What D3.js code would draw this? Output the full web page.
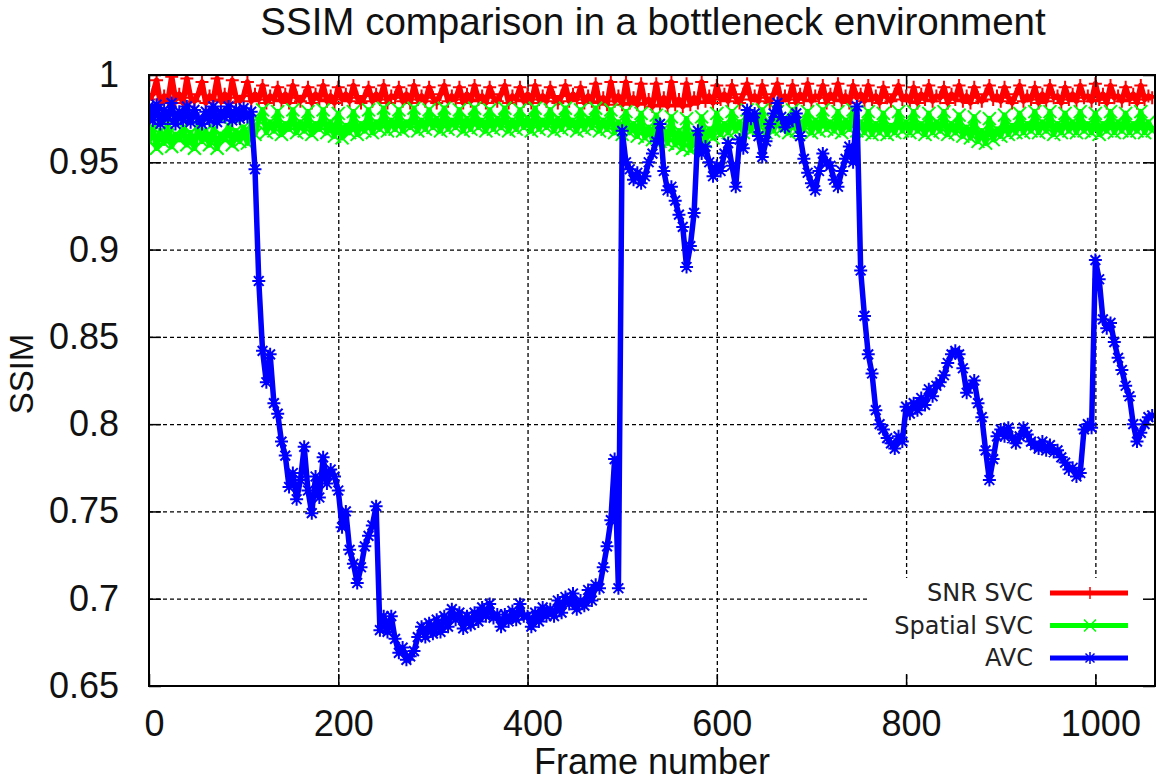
<!DOCTYPE html>
<html>
<head>
<meta charset="utf-8">
<script src="https://cdn.jsdelivr.net/npm/d3@7/dist/d3.min.js"></script>
<style>
  body { margin: 0; background: #fff; }
  svg { display: block; font-family: "Liberation Sans", Arial, sans-serif; }
  .grid line { stroke: #000; stroke-width: 1.3; stroke-dasharray: 4,3; }
  .grid path { display: none; }
  .axis path { display: none; }
  .axis line { stroke: #000; stroke-width: 1.5; }
  .axis text { font-size: 36px; fill: #111; font-family: "Liberation Sans", Arial, sans-serif; }
  .legend text { font-family: "DejaVu Sans", sans-serif; font-size: 24px; fill: #222; }
</style>
</head>
<body>
<svg id="chart" width="1156" height="783"></svg>
<script>
// frames are sampled every 4 frames (0, 4, 8 ... 1060)
const frameStep = 4;

const snrSvc = [
  0.986,0.989,0.997,0.984,0.988,0.985,0.999,0.986,0.989,0.984,
  0.998,0.987,0.985,0.989,0.996,0.984,0.988,0.986,0.998,0.985,
  0.989,0.984,0.997,0.987,0.985,0.988,0.996,0.985,0.989,0.986,
  0.994,0.984,0.988,0.986,0.993,0.985,0.989,0.984,0.994,0.987,
  0.985,0.988,0.993,0.984,0.989,0.986,0.994,0.985,0.988,0.984,
  0.993,0.986,0.989,0.985,0.994,0.987,0.984,0.988,0.993,0.985,
  0.989,0.986,0.994,0.984,0.988,0.987,0.993,0.985,0.989,0.984,
  0.994,0.986,0.988,0.985,0.993,0.987,0.984,0.989,0.994,0.985,
  0.988,0.986,0.993,0.984,0.989,0.985,0.994,0.986,0.988,0.984,
  0.993,0.987,0.985,0.989,0.994,0.984,0.988,0.986,0.993,0.985,
  0.989,0.984,0.994,0.986,0.988,0.985,0.993,0.987,0.984,0.988,
  0.994,0.985,0.989,0.986,0.993,0.984,0.988,0.985,0.995,0.984,
  0.987,0.983,0.996,0.985,0.988,0.983,0.996,0.984,0.987,0.983,
  0.995,0.984,0.986,0.982,0.995,0.983,0.987,0.982,0.996,0.983,
  0.986,0.982,0.995,0.983,0.987,0.984,0.996,0.985,0.988,0.984,
  0.994,0.986,0.989,0.985,0.994,0.987,0.984,0.989,0.995,0.986,
  0.988,0.985,0.994,0.987,0.984,0.989,0.995,0.985,0.988,0.986,
  0.994,0.984,0.989,0.986,0.995,0.985,0.988,0.987,0.994,0.984,
  0.989,0.986,0.995,0.985,0.988,0.984,0.994,0.987,0.989,0.985,
  0.994,0.986,0.988,0.984,0.993,0.987,0.985,0.989,0.994,0.986,
  0.988,0.985,0.993,0.984,0.989,0.986,0.994,0.985,0.988,0.987,
  0.993,0.984,0.989,0.986,0.994,0.985,0.988,0.984,0.993,0.987,
  0.985,0.989,0.994,0.986,0.988,0.985,0.993,0.987,0.984,0.989,
  0.994,0.985,0.988,0.986,0.993,0.984,0.989,0.985,0.994,0.987,
  0.988,0.984,0.993,0.986,0.989,0.985,0.994,0.987,0.988,0.985,
  0.995,0.986,0.989,0.984,0.994,0.987,0.988,0.985,0.993,0.986,
  0.989,0.984,0.994,0.986,0.988,0.987
];

const spatialSvc = [
  0.962,0.970,0.958,0.968,0.961,0.972,0.959,0.966,0.963,0.970,
  0.960,0.967,0.958,0.971,0.962,0.968,0.960,0.969,0.958,0.966,
  0.963,0.971,0.960,0.968,0.962,0.970,0.961,0.972,0.966,0.974,
  0.980,0.967,0.973,0.968,0.979,0.966,0.972,0.969,0.980,0.967,
  0.973,0.968,0.979,0.966,0.972,0.969,0.980,0.967,0.973,0.965,
  0.978,0.964,0.971,0.967,0.979,0.966,0.972,0.968,0.980,0.967,
  0.973,0.969,0.981,0.968,0.974,0.969,0.980,0.968,0.973,0.970,
  0.981,0.968,0.974,0.969,0.980,0.970,0.975,0.968,0.981,0.969,
  0.974,0.970,0.980,0.968,0.975,0.969,0.981,0.970,0.974,0.968,
  0.980,0.969,0.975,0.970,0.981,0.968,0.974,0.969,0.980,0.970,
  0.975,0.968,0.981,0.969,0.974,0.970,0.980,0.968,0.975,0.969,
  0.981,0.970,0.974,0.968,0.980,0.969,0.975,0.970,0.981,0.968,
  0.974,0.969,0.980,0.967,0.973,0.966,0.979,0.967,0.972,0.965,
  0.978,0.964,0.970,0.963,0.977,0.962,0.969,0.961,0.976,0.960,
  0.968,0.958,0.975,0.957,0.967,0.959,0.976,0.962,0.969,0.964,
  0.978,0.966,0.972,0.967,0.979,0.968,0.973,0.967,0.980,0.968,
  0.974,0.969,0.980,0.967,0.973,0.968,0.979,0.969,0.974,0.967,
  0.980,0.968,0.973,0.969,0.979,0.967,0.974,0.968,0.980,0.969,
  0.973,0.968,0.979,0.967,0.974,0.969,0.980,0.968,0.973,0.967,
  0.979,0.966,0.972,0.967,0.978,0.966,0.971,0.967,0.979,0.968,
  0.973,0.967,0.979,0.968,0.972,0.966,0.978,0.967,0.973,0.968,
  0.979,0.966,0.972,0.967,0.977,0.965,0.970,0.964,0.976,0.962,
  0.968,0.961,0.975,0.963,0.969,0.965,0.977,0.966,0.971,0.967,
  0.978,0.967,0.972,0.968,0.979,0.967,0.973,0.968,0.979,0.966,
  0.972,0.967,0.978,0.968,0.973,0.967,0.979,0.968,0.972,0.967,
  0.978,0.966,0.972,0.968,0.979,0.967,0.973,0.968,0.978,0.967,
  0.972,0.968,0.979,0.967,0.973,0.968
];

const avc = [
  0.982,0.974,0.983,0.972,0.980,0.975,0.984,0.972,0.979,0.974,
  0.982,0.973,0.980,0.975,0.972,0.979,0.974,0.982,0.973,0.979,
  0.976,0.982,0.974,0.980,0.975,0.981,0.976,0.979,0.946,0.882,
  0.842,0.824,0.840,0.812,0.806,0.790,0.782,0.764,0.772,0.757,
  0.768,0.787,0.762,0.749,0.770,0.758,0.781,0.766,0.774,0.770,
  0.762,0.741,0.750,0.728,0.720,0.709,0.718,0.730,0.736,0.742,
  0.753,0.682,0.690,0.681,0.690,0.677,0.669,0.672,0.665,0.667,
  0.670,0.678,0.684,0.678,0.686,0.680,0.688,0.681,0.690,0.684,
  0.694,0.688,0.692,0.683,0.690,0.685,0.692,0.687,0.695,0.690,
  0.697,0.689,0.691,0.684,0.691,0.687,0.693,0.688,0.697,0.690,
  0.690,0.684,0.692,0.687,0.695,0.690,0.694,0.690,0.699,0.692,
  0.701,0.697,0.703,0.694,0.699,0.696,0.705,0.699,0.708,0.706,
  0.718,0.730,0.745,0.780,0.706,0.968,0.950,0.946,0.940,0.944,
  0.938,0.942,0.950,0.955,0.962,0.972,0.945,0.934,0.936,0.928,
  0.920,0.913,0.890,0.902,0.921,0.968,0.955,0.959,0.950,0.942,
  0.948,0.945,0.955,0.961,0.948,0.936,0.963,0.958,0.980,0.975,
  0.978,0.965,0.953,0.962,0.972,0.978,0.984,0.976,0.970,0.973,
  0.975,0.978,0.965,0.952,0.944,0.938,0.934,0.945,0.955,0.950,
  0.948,0.940,0.936,0.945,0.952,0.959,0.950,0.982,0.888,0.862,
  0.840,0.829,0.808,0.800,0.797,0.792,0.789,0.786,0.793,0.790,
  0.810,0.806,0.812,0.808,0.815,0.811,0.820,0.816,0.822,0.824,
  0.828,0.835,0.840,0.842,0.840,0.832,0.818,0.822,0.825,0.812,
  0.804,0.785,0.768,0.780,0.793,0.797,0.793,0.798,0.792,0.789,
  0.793,0.798,0.794,0.790,0.788,0.786,0.790,0.785,0.788,0.784,
  0.785,0.781,0.778,0.774,0.775,0.770,0.772,0.797,0.800,0.798,
  0.894,0.883,0.860,0.855,0.858,0.847,0.838,0.831,0.822,0.816,
  0.800,0.790,0.795,0.800,0.804,0.805
];

const seriesNames = ['SNR SVC', 'Spatial SVC', 'AVC'];
const seriesColors = ['#ff0000', '#00ff00', '#0000ff'];
const seriesMarkers = ['plus', 'times', 'star'];
const xTicks = [0, 200, 400, 600, 800, 1000];
const yTicks = [0.65, 0.7, 0.75, 0.8, 0.85, 0.9, 0.95, 1];

const svg = d3.select('#chart');
const margin = {top: 75, right: 1, bottom: 97, left: 149},
    width = +svg.attr('width') - margin.left - margin.right,
    height = +svg.attr('height') - margin.top - margin.bottom;

const x = d3.scaleLinear().domain([0, 1063]).range([0, width]);
const y = d3.scaleLinear().domain([0.65, 1]).range([height, 0]);

const g = svg.append('g')
  .attr('transform', 'translate(' + margin.left + ',' + margin.top + ')');

svg.append('defs').append('clipPath').attr('id', 'clip')
  .append('rect').attr('width', width).attr('height', height);

// grid
g.append('g').attr('class', 'grid')
  .attr('transform', 'translate(0,' + height + ')')
  .call(d3.axisBottom(x).tickValues(xTicks.slice(1)).tickSize(-height).tickFormat(''));
g.append('g').attr('class', 'grid')
  .call(d3.axisLeft(y).tickValues(yTicks.slice(1, -1)).tickSize(-width).tickFormat(''));

// markers as one path per series
const markerPath = (type, px, py, r) => {
  const plus = `M${px - r},${py}h${2 * r}M${px},${py - r}v${2 * r}`;
  const times = `M${px - r},${py - r}l${2 * r},${2 * r}M${px - r},${py + r}l${2 * r},${-2 * r}`;
  if (type === 'plus') return plus;
  if (type === 'times') return times;
  const s = r * 0.75;
  return plus + `M${px - s},${py - s}l${2 * s},${2 * s}M${px - s},${py + s}l${2 * s},${-2 * s}`;
};

const line = d3.line()
  .x(function(d, i) { return x(i * frameStep); })
  .y(function(d) { return y(d); });

const plotArea = g.append('g').attr('clip-path', 'url(#clip)');

[snrSvc, spatialSvc, avc].forEach((values, k) => {
  plotArea.append('path')
    .attr('d', line(values))
    .attr('fill', 'none')
    .attr('stroke', seriesColors[k])
    .attr('stroke-width', 5.5)
    .attr('stroke-linejoin', 'round');
  plotArea.append('path')
    .attr('d', values.map((v, i) => markerPath(seriesMarkers[k], x(i * frameStep), y(v), 6.5)).join(''))
    .attr('fill', 'none')
    .attr('stroke', seriesColors[k])
    .attr('stroke-width', 2);
});

// legend box (opaque)
const legend = g.append('g').attr('class', 'legend');
legend.append('rect')
  .attr('x', 721).attr('y', 503)
  .attr('width', 282).attr('height', 94)
  .attr('fill', '#fff');

// axes with inward ticks, mirrored
const xAxis = g.append('g').attr('class', 'axis')
  .attr('transform', 'translate(0,' + height + ')')
  .call(d3.axisBottom(x).tickValues(xTicks).tickSize(-12).tickPadding(24).tickFormat(d3.format('d')));
xAxis.selectAll('text').attr('dx', 5);
g.append('g').attr('class', 'axis')
  .call(d3.axisTop(x).tickValues(xTicks).tickSize(-12).tickFormat(''));
g.append('g').attr('class', 'axis')
  .call(d3.axisLeft(y).tickValues(yTicks).tickSize(-12).tickPadding(30).tickFormat(d3.format('')));
g.append('g').attr('class', 'axis')
  .attr('transform', 'translate(' + width + ',0)')
  .call(d3.axisRight(y).tickValues(yTicks).tickSize(-12).tickFormat(''));

g.append('rect')
  .attr('width', width).attr('height', height)
  .attr('fill', 'none').attr('stroke', '#000').attr('stroke-width', 2);

// legend entries
seriesNames.forEach((name, k) => {
  const ly = 518 + k * 32.5;
  legend.append('text')
    .attr('x', 884).attr('y', ly)
    .attr('dy', '0.35em')
    .attr('text-anchor', 'end')
    .text(name);
  legend.append('line')
    .attr('x1', 901).attr('x2', 979)
    .attr('y1', ly).attr('y2', ly)
    .attr('stroke', seriesColors[k]).attr('stroke-width', 5);
  legend.append('path')
    .attr('d', markerPath(seriesMarkers[k], 941, ly, 6))
    .attr('fill', 'none')
    .attr('stroke', seriesColors[k]).attr('stroke-width', 1.5);
});

// titles
svg.append('text')
  .attr('x', 653).attr('y', 35)
  .attr('text-anchor', 'middle')
  .style('font-size', '38.5px').style('fill', '#111')
  .text('SSIM comparison in a bottleneck environment');

svg.append('text')
  .attr('x', 652).attr('y', 774)
  .attr('text-anchor', 'middle')
  .style('font-size', '36px').style('fill', '#111')
  .text('Frame number');

svg.append('text')
  .attr('transform', 'translate(33,374) rotate(-90)')
  .attr('text-anchor', 'middle')
  .style('font-size', '33px').style('fill', '#111')
  .text('SSIM');
</script>
</body>
</html>
